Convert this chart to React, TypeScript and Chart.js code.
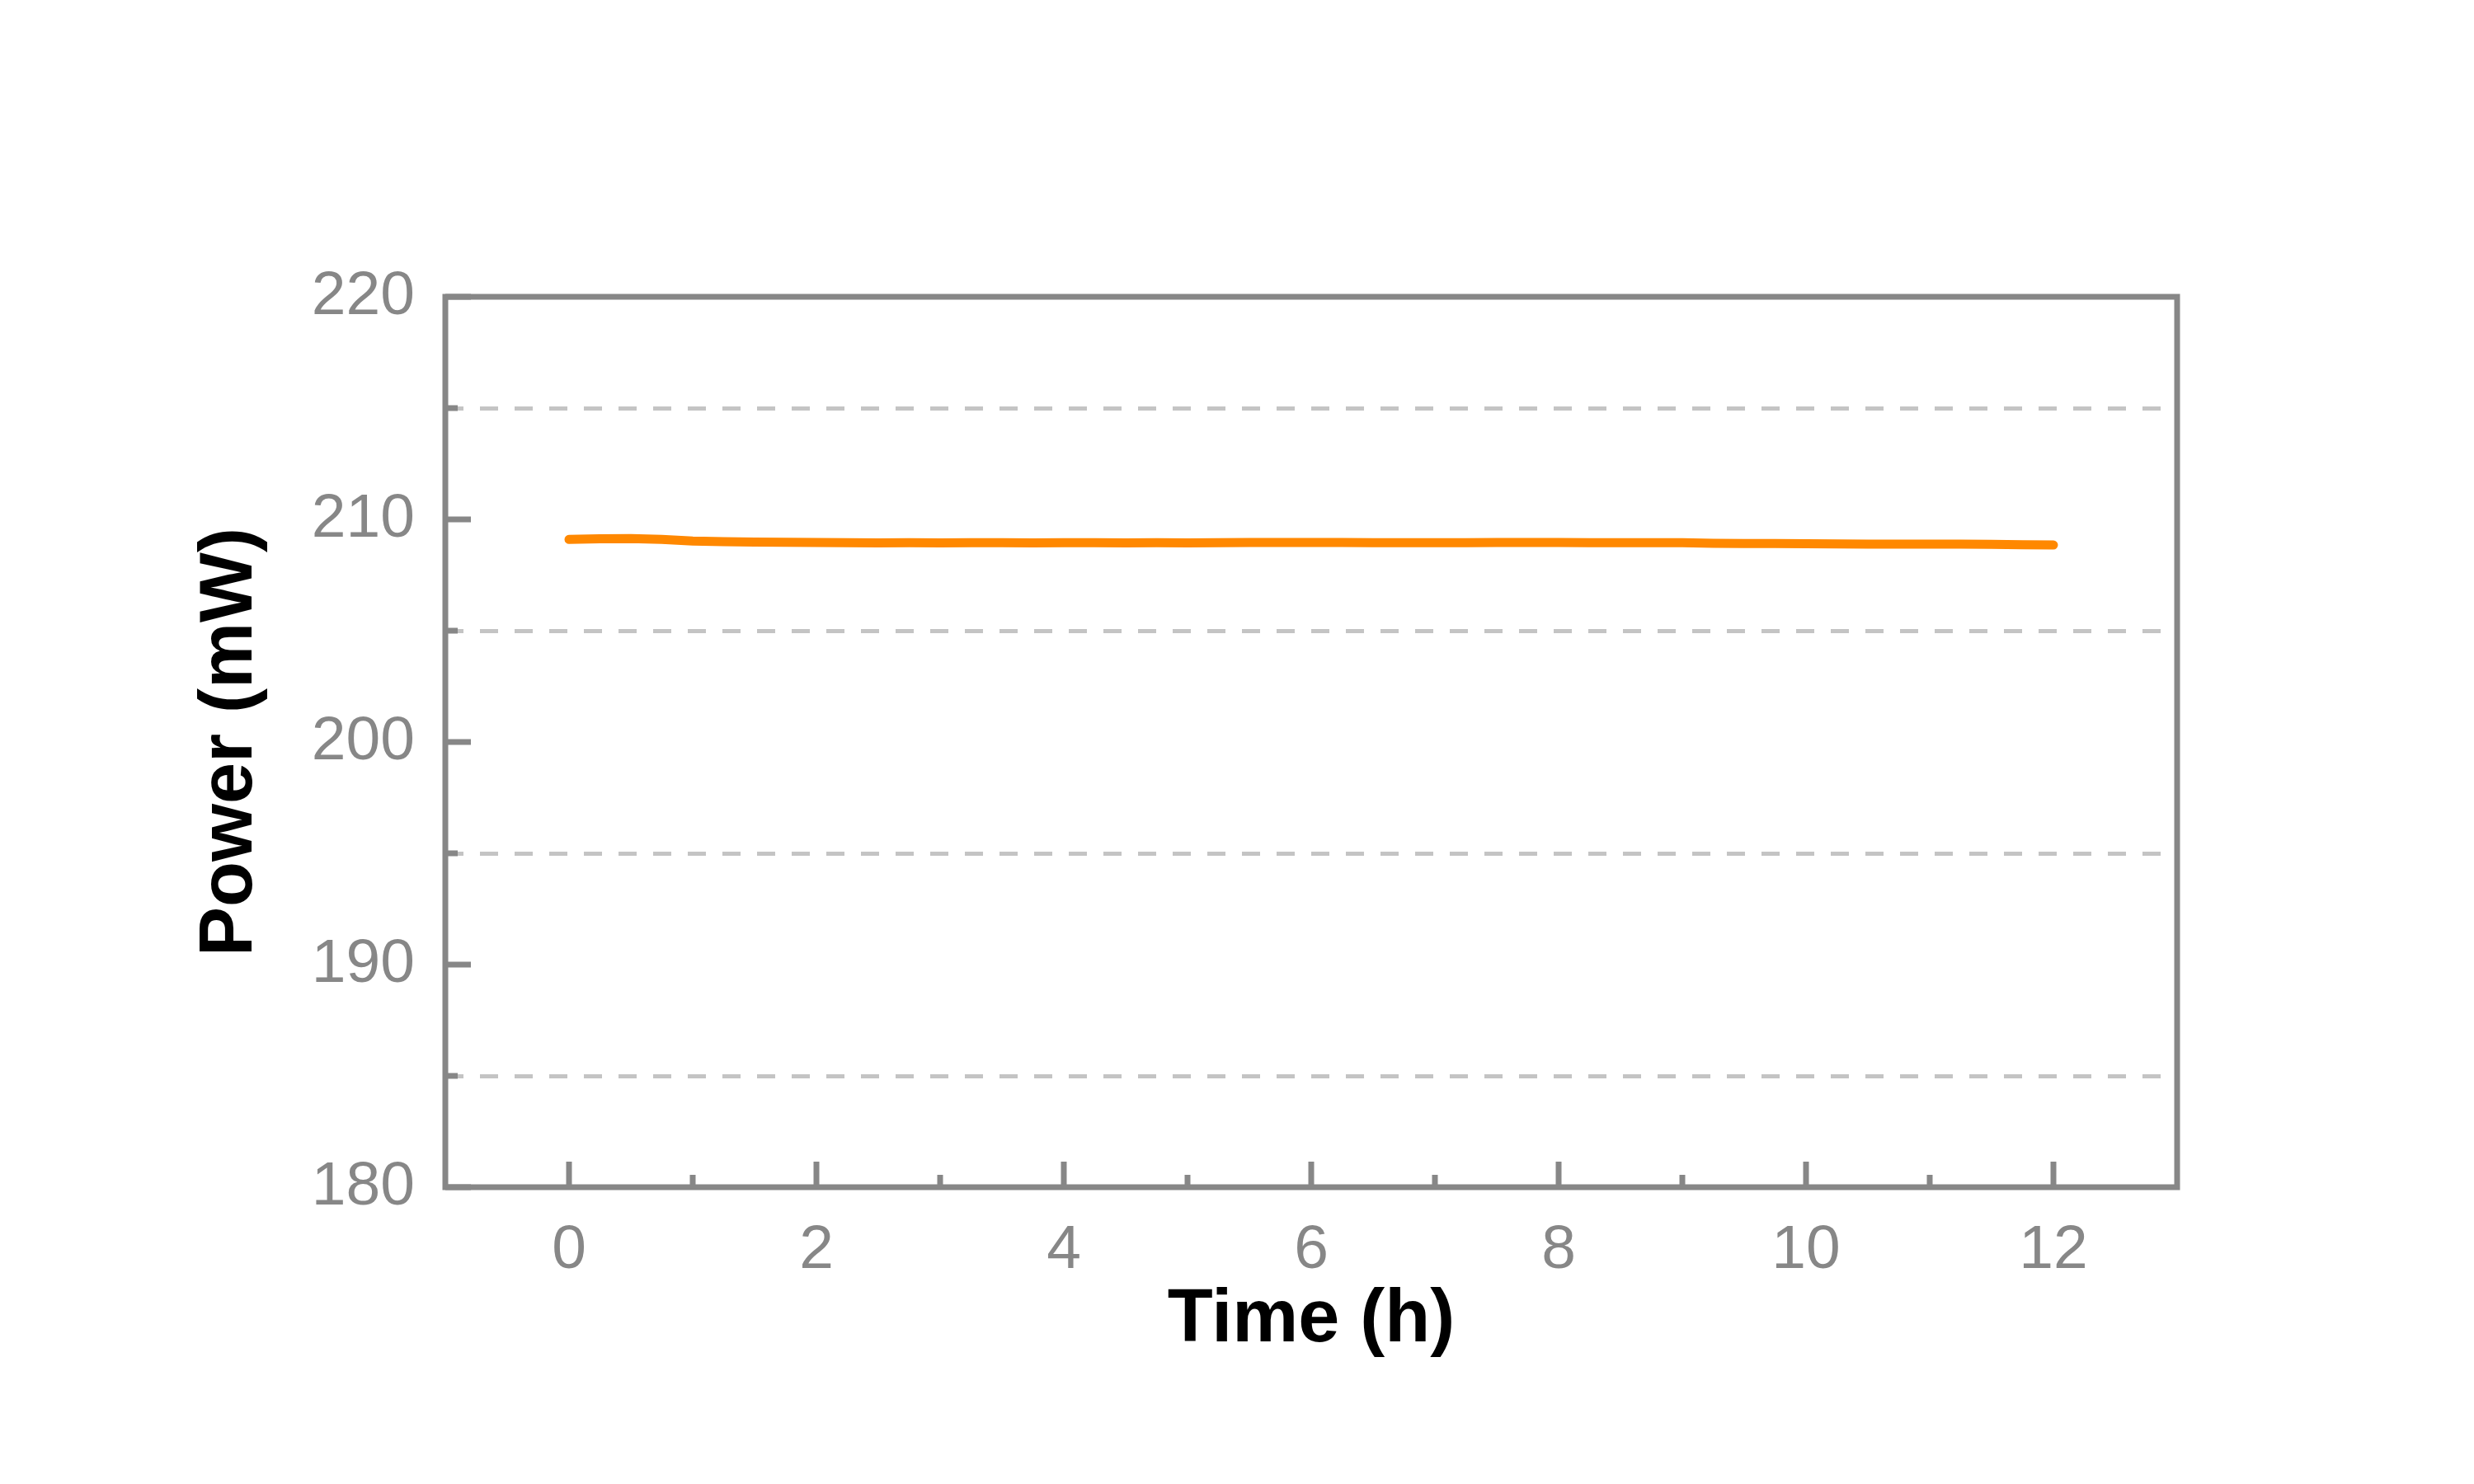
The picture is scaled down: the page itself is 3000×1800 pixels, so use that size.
import React, { useEffect, useRef } from "react";
import { Chart, registerables } from "chart.js";

Chart.register(...registerables);

const timeHours = [
  0, 0.25, 0.5, 0.75, 1, 1.25, 1.5, 1.75, 2, 2.25, 2.5, 2.75, 3, 3.25, 3.5, 3.75,
  4, 4.25, 4.5, 4.75, 5, 5.25, 5.5, 5.75, 6, 6.25, 6.5, 6.75, 7, 7.25, 7.5, 7.75,
  8, 8.25, 8.5, 8.75, 9, 9.25, 9.5, 9.75, 10, 10.25, 10.5, 10.75, 11, 11.25, 11.5, 11.75, 12,
];
const powerMW = [
  209.1, 209.13, 209.14, 209.1, 209.03, 209.0, 208.98, 208.97, 208.96, 208.95, 208.94, 208.95,
  208.94, 208.95, 208.95, 208.94, 208.95, 208.95, 208.94, 208.95, 208.94, 208.95, 208.96, 208.96,
  208.96, 208.96, 208.95, 208.95, 208.95, 208.95, 208.96, 208.96, 208.96, 208.95, 208.95, 208.95,
  208.95, 208.93, 208.92, 208.92, 208.91, 208.9, 208.89, 208.89, 208.89, 208.89, 208.88, 208.86, 208.85,
];
const xMajorTicks = [0, 2, 4, 6, 8, 10, 12];
const xMinorTicks = [1, 3, 5, 7, 9, 11];
const yMajorTicks = [180, 190, 200, 210, 220];
const yMinorTicks = [185, 195, 205, 215];
const yAllTicks = [180, 185, 190, 195, 200, 205, 210, 215, 220];

const AXIS_GRAY = "#878787";
const FONT = "'Liberation Sans', Arial, sans-serif";

const framePlugin = {
  id: "frameAndTicks",
  afterDraw(chart: any) {
    const { ctx, chartArea } = chart;
    const xs = chart.scales.x;
    const ys = chart.scales.y;
    ctx.save();
    ctx.strokeStyle = AXIS_GRAY;
    ctx.lineWidth = 7;
    ctx.lineCap = "butt";
    const major = 31;
    const minor = 15;
    const drawX = (v: number, len: number) => {
      const px = xs.getPixelForValue(v);
      ctx.beginPath();
      ctx.moveTo(px, chartArea.bottom);
      ctx.lineTo(px, chartArea.bottom - len);
      ctx.stroke();
    };
    const drawY = (v: number, len: number) => {
      const py = ys.getPixelForValue(v);
      ctx.beginPath();
      ctx.moveTo(chartArea.left, py);
      ctx.lineTo(chartArea.left + len, py);
      ctx.stroke();
    };
    xMajorTicks.forEach((v) => drawX(v, major));
    xMinorTicks.forEach((v) => drawX(v, minor));
    yMajorTicks.forEach((v) => drawY(v, major));
    yMinorTicks.forEach((v) => drawY(v, minor));
    ctx.strokeRect(
      chartArea.left,
      chartArea.top,
      chartArea.right - chartArea.left,
      chartArea.bottom - chartArea.top
    );
    ctx.restore();
  },
};

export default function App() {
  const ref = useRef<HTMLCanvasElement | null>(null);
  useEffect(() => {
    if (!ref.current) return;
    const chart = new Chart(ref.current, {
      type: "line",
      data: {
        datasets: [
          {
            data: timeHours.map((t, i) => ({ x: t, y: powerMW[i] })),
            borderColor: "#ff8800",
            borderWidth: 11,
            borderCapStyle: "round",
            borderJoinStyle: "round",
            pointRadius: 0,
            tension: 0,
            fill: false,
          },
        ],
      },
      options: {
        animation: false,
        responsive: false,
        devicePixelRatio: 1,
        layout: { padding: { top: 360, right: 360, left: 0, bottom: 0 } },
        plugins: { legend: { display: false }, tooltip: { enabled: false } },
        scales: {
          x: {
            type: "linear",
            min: -1,
            max: 13,
            afterBuildTicks: (scale: any) => {
              scale.ticks = xMajorTicks.map((v) => ({ value: v }));
            },
            afterFit: (scale: any) => {
              scale.height = 360;
            },
            grid: { display: false, drawTicks: false },
            border: { display: false },
            ticks: {
              color: AXIS_GRAY,
              font: { family: FONT, size: 75 },
              padding: 32,
              maxRotation: 0,
              autoSkip: false,
            },
            title: {
              display: true,
              text: "Time (h)",
              color: "#000000",
              font: { family: FONT, size: 90, weight: "bold", lineHeight: 1.2 },
              padding: { top: 0, bottom: 144 },
            },
          },
          y: {
            type: "linear",
            min: 180,
            max: 220,
            afterBuildTicks: (scale: any) => {
              scale.ticks = yAllTicks.map((v) => ({ value: v }));
            },
            afterFit: (scale: any) => {
              scale.width = 540;
            },
            grid: {
              drawTicks: false,
              lineWidth: 5,
              color: (c: any) =>
                c.tick && yMinorTicks.includes(c.tick.value) ? "#c4c4c4" : "rgba(0,0,0,0)",
            },
            border: { display: false, dash: [22, 20], dashOffset: 0 },
            ticks: {
              color: AXIS_GRAY,
              font: { family: FONT, size: 75 },
              padding: 37,
              autoSkip: false,
              callback: (v: any) => (yMajorTicks.includes(Number(v)) ? String(v) : ""),
            },
            title: {
              display: true,
              text: "Power (mW)",
              color: "#000000",
              font: { family: FONT, size: 90, weight: "bold", lineHeight: 1.2 },
              padding: { top: 226, bottom: 0 },
            },
          },
        },
      } as any,
      plugins: [framePlugin],
    });
    return () => chart.destroy();
  }, []);
  return (
    <div style={{ position: "fixed", left: 0, top: 0, width: 3000, height: 1800, background: "#ffffff" }}>
      <canvas ref={ref} width={3000} height={1800} style={{ width: 3000, height: 1800, display: "block" }} />
    </div>
  );
}
